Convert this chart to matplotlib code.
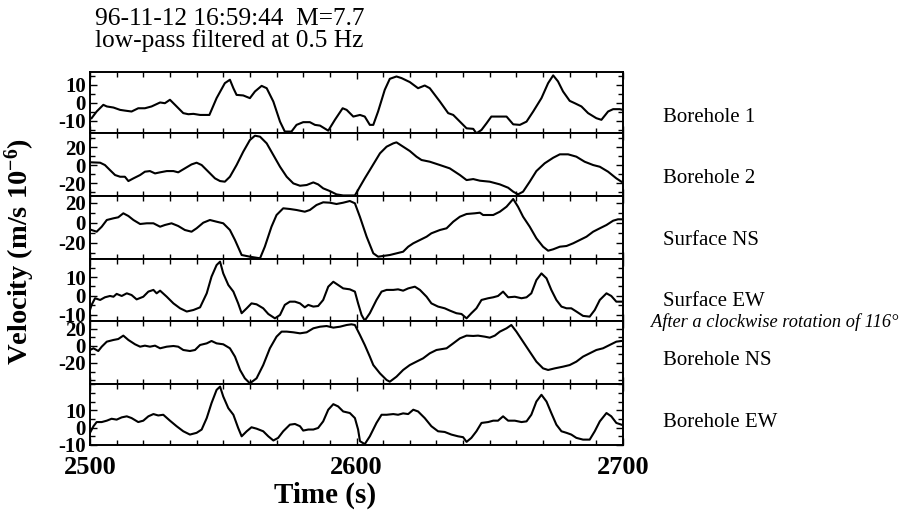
import matplotlib
matplotlib.use("Agg")
import matplotlib.pyplot as plt
from matplotlib.ticker import MultipleLocator

plt.rcParams["font.family"] = ["Liberation Serif", "DejaVu Serif"]
plt.rcParams["font.weight"] = "bold"
plt.rcParams["axes.unicode_minus"] = False
plt.rcParams["mathtext.fontset"] = "custom"
plt.rcParams["mathtext.rm"] = "Liberation Serif:bold"
plt.rcParams["mathtext.bf"] = "Liberation Serif:bold"
plt.rcParams["mathtext.it"] = "Liberation Serif:bold:italic"

# Velocity traces (m/s 1e-6), time in seconds
bh1_t = [2500.6, 2502.5, 2505.0, 2506.3, 2508.8, 2511.3, 2513.1, 2515.6, 2518.1, 2520.6,
         2523.1, 2526.3, 2528.1, 2530.0, 2531.9, 2535.0, 2536.9, 2538.8, 2541.3, 2544.8,
         2547.5, 2550.6, 2552.5, 2553.8, 2555.0, 2557.5, 2560.0, 2561.9, 2564.4, 2566.3,
         2568.8, 2571.3, 2573.1, 2575.6, 2577.5, 2580.0, 2582.5, 2584.4, 2586.3, 2589.4,
         2591.9, 2594.8, 2596.3, 2598.8, 2601.3, 2603.1, 2605.0, 2606.3, 2608.1, 2610.6,
         2612.5, 2615.0, 2616.9, 2620.0, 2623.1, 2625.6, 2627.5, 2631.3, 2634.4, 2636.3,
         2638.8, 2641.3, 2643.8, 2645.0, 2646.9, 2648.8, 2650.6, 2653.1, 2656.3, 2658.8,
         2661.3, 2663.8, 2666.3, 2669.4, 2671.9, 2673.8, 2675.6, 2677.5, 2680.0, 2681.9,
         2684.4, 2686.9, 2690.0, 2691.9, 2694.4, 2696.3, 2698.8, 2700.0]
bh1_v = [-8.5, -4.8, -1.1, -2.0, -2.6, -3.9, -4.3, -4.8, -3.0, -3.0,
         -2.0, 0.2, -0.2, 1.7, -1.1, -5.7, -6.3, -6.1, -6.7, -6.7,
         2.6, 10.9, 12.8, 8.1, 4.4, 4.1, 2.6, 6.3, 9.4, 8.1,
         0.7, -10.4, -15.9, -15.9, -12.2, -10.7, -10.7, -12.2, -12.6, -15.4,
         -9.4, -3.0, -3.9, -7.6, -6.7, -7.6, -12.2, -12.2, -4.8, 7.2,
         13.3, 14.6, 13.7, 11.5, 8.1, 9.6, 8.1, 0.7, -5.7, -6.7,
         -10.4, -14.1, -14.4, -16.9, -15.0, -11.3, -7.6, -7.6, -7.6, -11.9,
         -12.2, -10.4, -4.8, 2.6, 10.9, 15.2, 11.9, 6.3, 1.1, -0.2,
         -2.0, -5.7, -8.5, -9.4, -4.8, -3.5, -3.5, -3.9]

bh2_t = [2500.6, 2503.8, 2505.6, 2507.5, 2509.4, 2511.3, 2513.1, 2514.4, 2516.3, 2518.8,
         2520.6, 2522.5, 2524.4, 2526.3, 2528.8, 2531.3, 2533.1, 2535.6, 2538.1, 2540.0,
         2541.9, 2544.4, 2546.9, 2548.8, 2550.6, 2552.5, 2555.0, 2557.5, 2560.0, 2561.9,
         2563.8, 2566.3, 2568.8, 2571.3, 2573.8, 2576.3, 2578.8, 2581.3, 2583.8, 2585.6,
         2587.5, 2590.0, 2592.5, 2595.0, 2597.5, 2599.4, 2601.3, 2603.1, 2605.0, 2606.9,
         2608.8, 2611.3, 2613.8, 2615.0, 2617.5, 2620.0, 2622.5, 2624.4, 2627.5, 2631.3,
         2635.0, 2638.8, 2641.3, 2643.8, 2646.3, 2650.0, 2653.8, 2656.9, 2658.8, 2660.6,
         2662.5, 2665.0, 2667.5, 2670.6, 2673.8, 2676.3, 2679.4, 2682.5, 2685.6, 2688.8,
         2691.3, 2694.4, 2697.5, 2699.4]
bh2_v = [3.0, 2.6, 0.0, -5.6, -11.1, -13.0, -13.0, -17.8, -14.8, -11.1,
         -7.4, -6.7, -9.3, -8.1, -6.7, -6.7, -8.1, -3.7, 0.7, 2.6,
         0.0, -7.4, -14.8, -17.8, -18.5, -13.0, 0.0, 14.8, 27.8, 32.6,
         31.5, 24.1, 11.1, -1.9, -13.0, -20.4, -23.0, -22.2, -19.3, -21.5,
         -25.9, -28.9, -32.6, -33.8, -33.8, -33.8, -24.0, -14.8, -5.6, 3.7,
         13.0, 20.4, 24.1, 25.2, 20.4, 15.6, 9.3, 5.6, 3.7, 0.0,
         -3.7, -11.1, -16.7, -15.6, -17.4, -18.5, -21.5, -25.2, -29.6, -32.6,
         -29.6, -18.5, -6.7, 1.9, 8.1, 11.9, 11.9, 9.3, 3.7, 0.0,
         -1.9, -7.4, -14.8, -18.5]

sns_t = [2500.6, 2502.5, 2504.4, 2506.3, 2508.8, 2510.6, 2512.5, 2514.4, 2516.3, 2518.8,
         2521.3, 2523.8, 2526.3, 2528.1, 2530.6, 2533.1, 2535.6, 2538.1, 2540.0, 2542.5,
         2545.0, 2547.5, 2550.0, 2552.5, 2554.4, 2556.9, 2560.0, 2563.8, 2565.6, 2568.1,
         2570.0, 2572.5, 2575.0, 2577.5, 2580.6, 2582.5, 2585.0, 2587.5, 2590.0, 2592.5,
         2595.0, 2597.5, 2599.4, 2601.3, 2603.8, 2606.3, 2608.1, 2612.5, 2617.5, 2619.4,
         2621.3, 2626.3, 2628.1, 2631.3, 2633.8, 2636.3, 2638.8, 2641.3, 2644.4, 2646.3,
         2647.5, 2651.3, 2653.8, 2656.3, 2658.8, 2660.6, 2662.5, 2665.0, 2667.5, 2670.0,
         2671.9, 2673.8, 2676.3, 2678.8, 2681.3, 2683.8, 2686.3, 2688.8, 2691.3, 2693.8,
         2696.3, 2698.1, 2700.0]
sns_v = [-7.0, -8.7, -3.7, 3.0, 4.7, 5.7, 9.7, 7.0, 3.0, -1.0,
         -0.3, -0.3, -3.7, -2.0, -0.3, -3.0, -7.0, -8.7, -5.3, 0.3,
         3.0, 1.3, -0.3, -7.0, -17.0, -32.0, -33.7, -35.3, -23.7, -3.7,
         8.0, 14.7, 14.0, 13.0, 11.3, 13.0, 18.0, 20.7, 20.3, 19.0,
         20.3, 22.0, 19.7, 6.0, -13.7, -30.3, -33.7, -32.0, -28.7, -23.7,
         -20.3, -13.7, -10.3, -7.0, -5.3, 1.3, 6.3, 9.0, 9.7, 10.3,
         8.0, 8.0, 11.3, 16.3, 24.0, 16.3, 6.3, -3.7, -15.3, -23.7,
         -27.7, -26.3, -23.7, -23.0, -20.3, -17.0, -13.7, -8.7, -5.3, -2.0,
         2.3, 3.7, 3.7]

sew_t = [2500.0, 2500.6, 2501.9, 2503.8, 2505.6, 2507.5, 2508.8, 2510.0, 2511.9, 2513.8,
         2515.6, 2517.5, 2520.0, 2521.9, 2523.8, 2525.0, 2526.3, 2528.8, 2531.3, 2533.8,
         2536.3, 2538.8, 2541.3, 2543.8, 2545.6, 2547.5, 2548.8, 2550.0, 2551.9, 2553.8,
         2555.6, 2556.9, 2558.8, 2560.6, 2562.5, 2565.0, 2566.9, 2569.4, 2571.3, 2573.1,
         2575.0, 2576.9, 2578.8, 2580.6, 2581.9, 2583.8, 2585.6, 2587.5, 2589.4, 2591.3,
         2593.1, 2595.0, 2597.5, 2599.4, 2600.6, 2601.9, 2603.1, 2605.0, 2607.5, 2609.4,
         2611.3, 2613.8, 2615.6, 2617.5, 2619.4, 2621.9, 2623.8, 2626.3, 2628.1, 2630.6,
         2633.1, 2635.0, 2637.5, 2639.4, 2641.3, 2643.1, 2645.0, 2646.9, 2649.4, 2651.3,
         2653.1, 2655.0, 2656.9, 2659.4, 2661.9, 2663.8, 2665.6, 2667.5, 2669.4, 2671.3,
         2673.1, 2675.0, 2676.9, 2678.8, 2680.6, 2682.5, 2685.0, 2687.5, 2689.4, 2691.3,
         2693.8, 2695.6, 2697.5, 2699.4]
sew_v = [-7.4, -4.7, -1.2, -2.1, -0.7, 0.0, -0.4, 1.1, 0.0, 1.4,
         0.5, -1.8, -0.4, 2.3, 3.2, 1.4, 2.8, -0.4, -3.9, -6.5,
         -8.2, -7.4, -6.0, 1.4, 10.2, 16.3, 18.1, 11.9, 5.8, 2.3,
         -3.9, -9.1, -6.5, -3.9, -4.4, -6.5, -9.5, -11.8, -10.0, -4.7,
         -3.0, -3.0, -3.9, -6.0, -4.7, -5.6, -5.3, -2.1, 4.9, 7.5,
         5.8, 4.0, 3.5, 2.3, -3.9, -10.0, -13.0, -9.1, -2.1, 2.3,
         3.2, 3.2, 3.5, 2.8, 4.0, 4.9, 3.2, -0.4, -3.9, -5.6,
         -6.5, -7.7, -9.1, -9.5, -11.8, -9.1, -6.5, -2.1, -1.2, -0.7,
         0.0, 2.3, -0.7, -0.4, -1.2, -0.7, 1.4, 8.4, 11.9, 9.3,
         3.2, -2.1, -5.6, -6.5, -6.5, -8.2, -10.5, -10.9, -7.4, -2.1,
         1.4, 0.0, -3.0, -3.0]

bns_t = [2500.0, 2501.3, 2503.1, 2504.4, 2506.3, 2508.8, 2510.6, 2512.5, 2514.4, 2516.9,
         2518.8, 2520.6, 2522.5, 2524.4, 2526.3, 2528.8, 2531.3, 2533.1, 2535.0, 2537.5,
         2539.4, 2541.3, 2543.8, 2545.6, 2547.5, 2550.0, 2552.5, 2554.4, 2556.3, 2558.1,
         2560.0, 2562.5, 2565.0, 2567.5, 2570.0, 2571.9, 2573.8, 2576.3, 2578.8, 2581.3,
         2583.8, 2586.3, 2588.8, 2591.3, 2593.8, 2596.3, 2598.1, 2599.4, 2601.3, 2603.1,
         2605.0, 2606.3, 2608.8, 2611.3, 2612.5, 2615.0, 2617.5, 2620.0, 2622.5, 2625.0,
         2627.5, 2630.0, 2633.8, 2636.3, 2638.8, 2641.3, 2643.8, 2645.6, 2648.1, 2650.0,
         2651.9, 2653.8, 2656.3, 2658.1, 2660.0, 2662.5, 2665.0, 2667.5, 2670.0, 2671.9,
         2674.4, 2677.5, 2680.0, 2682.5, 2685.0, 2687.5, 2690.0, 2692.5, 2695.0, 2697.5,
         2699.4]
bns_v = [-4.7, -2.7, -5.9, -0.8, 5.1, 7.1, 8.2, 12.2, 7.1, 2.0,
         -0.8, 0.4, -0.8, 0.4, -2.7, -0.8, 0.0, -0.8, -4.7, -5.9,
         -4.7, 1.2, 3.1, 5.9, 3.1, 2.0, -2.7, -12.5, -28.2, -38.0,
         -43.9, -38.0, -22.4, -2.7, 11.0, 16.9, 16.9, 16.1, 14.9, 16.1,
         20.8, 22.7, 23.5, 21.6, 22.7, 24.7, 25.5, 24.7, 12.9, 1.2,
         -12.5, -22.4, -32.2, -40.0, -42.0, -36.1, -28.2, -22.4, -18.4, -14.5,
         -8.6, -4.7, -2.7, 3.1, 9.0, 12.2, 11.8, 12.2, 11.0, 9.8,
         12.2, 16.9, 20.8, 24.7, 16.9, 5.1, -6.7, -18.4, -26.3, -28.2,
         -26.3, -24.3, -22.4, -18.4, -12.5, -8.6, -4.7, -2.7, 1.2, 5.1,
         5.9]

bew_t = [2500.0, 2501.3, 2502.5, 2504.4, 2506.3, 2508.1, 2510.0, 2511.9, 2513.8, 2515.6,
         2518.1, 2520.0, 2521.9, 2523.8, 2525.6, 2527.5, 2530.0, 2532.5, 2535.0, 2537.5,
         2540.0, 2541.9, 2543.8, 2545.6, 2547.5, 2548.8, 2550.0, 2551.9, 2553.8, 2555.6,
         2556.9, 2558.8, 2560.6, 2562.5, 2565.0, 2566.9, 2568.8, 2570.6, 2572.5, 2575.0,
         2576.9, 2578.8, 2580.0, 2581.9, 2583.8, 2585.6, 2587.5, 2589.4, 2591.3, 2593.1,
         2595.0, 2597.5, 2599.4, 2600.6, 2601.3, 2603.1, 2605.0, 2607.5, 2609.4, 2611.3,
         2613.8, 2615.6, 2617.5, 2619.4, 2621.3, 2623.1, 2625.6, 2628.1, 2630.6, 2633.1,
         2635.6, 2638.1, 2640.0, 2641.3, 2643.1, 2645.0, 2646.9, 2649.4, 2651.3, 2653.1,
         2655.0, 2656.9, 2659.4, 2661.9, 2663.8, 2665.6, 2667.5, 2669.4, 2671.3, 2673.1,
         2675.0, 2676.9, 2678.8, 2680.6, 2682.5, 2685.0, 2687.5, 2689.4, 2691.3, 2693.8,
         2695.6, 2697.5, 2699.4]
bew_v = [-3.0, 0.8, 3.2, 3.2, 4.0, 5.1, 4.6, 5.9, 6.5, 5.5,
         3.2, 4.0, 6.5, 7.8, 7.0, 7.4, 4.0, 0.8, -2.1, -4.0,
         -3.0, -1.1, 5.5, 14.1, 21.7, 23.6, 17.9, 11.2, 7.4, -0.2,
         -5.0, -2.1, 0.2, -0.6, -2.1, -5.0, -7.4, -5.9, -2.1, 1.7,
         2.1, 0.8, -1.7, -1.1, -1.1, -0.2, 3.6, 10.3, 13.5, 12.2,
         9.3, 8.4, 5.5, -1.1, -7.8, -9.5, -5.0, 2.7, 7.4, 7.4,
         7.8, 7.4, 8.2, 7.8, 10.3, 9.3, 5.5, 0.8, -2.1, -2.5,
         -4.0, -5.0, -5.5, -8.2, -5.9, -2.1, 2.7, 3.2, 4.0, 4.0,
         6.5, 4.0, 4.0, 3.2, 3.6, 7.4, 15.0, 18.9, 15.0, 8.4,
         1.7, -2.1, -3.0, -4.0, -5.9, -6.9, -6.9, -2.1, 3.6, 8.4,
         6.5, 2.7, 1.7]

labels = ["Borehole 1", "Borehole 2", "Surface NS", "Surface EW", "Borehole NS", "Borehole EW"]
major_ticks = [[-10, 0, 10], [-20, 0, 20], [-20, 0, 20], [-10, 0, 10], [-20, 0, 20], [-10, 0, 10]]

traces = [(bh1_t, bh1_v), (bh2_t, bh2_v), (sns_t, sns_v),
          (sew_t, sew_v), (bns_t, bns_v), (bew_t, bew_v)]

# panel layout (pixels from top of a 907x514 figure)
W, H = 907, 514
x0, x1 = 90, 623
edges = [72.5, 133, 196, 259, 321, 384, 445]
ylims = [(-16.7, 16.8), (-34.4, 35.6), (-36, 27), (-13.2, 19.5), (-44.7, 29.4), (-9.7, 25.1)]
minor_steps = [5, 10, 10, 5, 10, 5]
label_base = [121.7, 183, 245, 306, 365, 426.7]

fig = plt.figure(figsize=(W / 100, H / 100), dpi=100)

for i, (t, v) in enumerate(traces):
    top, bot = edges[i], edges[i + 1]
    ax = fig.add_axes([x0 / W, 1 - bot / H, (x1 - x0) / W, (bot - top) / H])
    ax.plot(t, v, color="black", lw=1.5)
    ax.set_xlim(2500, 2700)
    ax.set_ylim(*ylims[i])
    ax.set_yticks(major_ticks[i])
    ax.yaxis.set_minor_locator(MultipleLocator(minor_steps[i]))
    ax.xaxis.set_major_locator(MultipleLocator(100))
    ax.xaxis.set_minor_locator(MultipleLocator(10))
    ax.tick_params(which="both", direction="in", top=True, right=True, width=1)
    ax.tick_params(which="major", length=5)
    ax.tick_params(which="minor", length=3.5)
    ax.tick_params(axis="y", labelsize=15, pad=3)
    ax.tick_params(axis="x", labelsize=19, pad=8, labelbottom=(i == 5))
    for s in ax.spines.values():
        s.set_linewidth(1.4)
    fig.text(663 / W, 1 - label_base[i] / H, labels[i], fontsize=15,
             fontweight="normal", va="baseline", ha="left")

fig.text(651 / W, 1 - 326.7 / H, "After a clockwise rotation of 116\u00b0",
         fontsize=13.2, fontweight="normal", style="italic", va="baseline", ha="left")

fig.text(95 / W, 1 - 25 / H, "96-11-12 16:59:44  M=7.7", fontsize=18.3,
         fontweight="normal", va="baseline", ha="left")
fig.text(95 / W, 1 - 47 / H, "low-pass filtered at 0.5 Hz", fontsize=18.3,
         fontweight="normal", va="baseline", ha="left")

fig.text(20 / W, 1 - 251 / H, "Velocity (m/s 10$^{-6}$)", rotation=90,
         fontsize=20.5, ha="center", va="center")
fig.text(325 / W, 1 - 495 / H, "Time (s)", fontsize=21, ha="center", va="center")

fig.savefig("out.png", dpi=100)
